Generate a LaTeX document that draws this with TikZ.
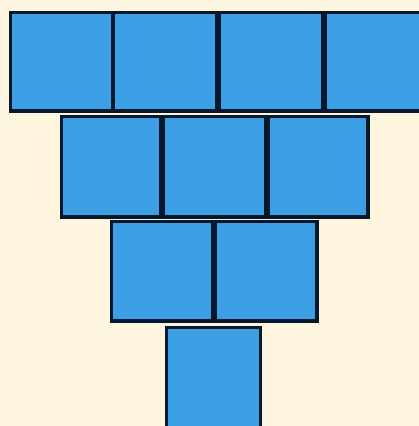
\documentclass[tikz,border=0pt]{standalone}
\definecolor{bgcream}{HTML}{FDF5DE}
\definecolor{sqblue}{HTML}{3D9FE3}
\definecolor{sqedge}{HTML}{08182C}
\begin{document}
\begin{tikzpicture}[x=1pt,y=-1pt,
  sq/.style={draw=sqedge,fill=sqblue,line width=3.4pt,inner sep=0pt,outer sep=0pt,minimum width=#1-2.4pt}]
\useasboundingbox (0,0) rectangle (419,426);
\clip (0,0) rectangle (419,426);
\fill[bgcream] (0,0) rectangle (419,426);
% row 1
\node[sq=104pt,minimum height=98.6pt] (a1) at (61.5,61.5) {};
\node[sq=105pt,minimum height=98.6pt] (a2) at (165,61.5) {};
\node[sq=106pt,minimum height=98.6pt] (a3) at (271,61.5) {};
\node[sq=106pt,minimum height=98.6pt] (a4) at (377,61.5) {};
% row 2
\node[sq=102pt,minimum height=100.6pt] (b1) at (111,166.5) {};
\node[sq=104pt,minimum height=100.6pt] (b2) at (214.5,166.5) {};
\node[sq=102pt,minimum height=100.6pt] (b3) at (318,166.5) {};
% row 3
\node[sq=103.5pt,minimum height=99.6pt] (c1) at (162,271) {};
\node[sq=104pt,minimum height=99.6pt] (c2) at (266,271) {};
% row 4
\node[sq=96pt,minimum height=104pt] (d1) at (213.5,379.5) {};
\end{tikzpicture}
\end{document}
